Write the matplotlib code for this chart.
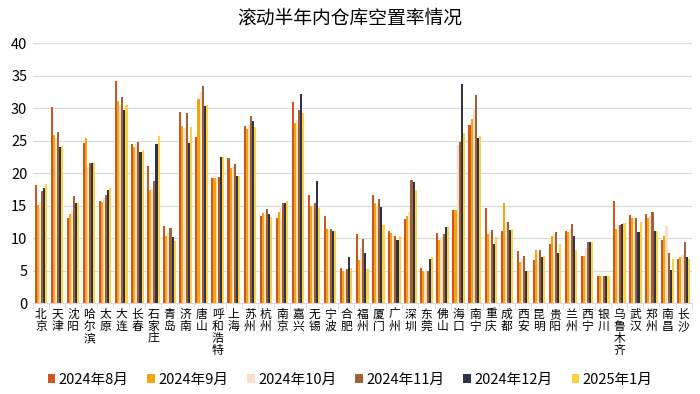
import numpy as np
import matplotlib
matplotlib.use("Agg")
import matplotlib.pyplot as plt

plt.rcParams["font.family"] = ["Noto Sans CJK SC", "DejaVu Sans"]

cities = ["北京", "天津", "沈阳", "哈尔滨", "太原", "大连", "长春", "石家庄", "青岛", "济南",
          "唐山", "呼和浩特", "上海", "苏州", "杭州", "南京", "嘉兴", "无锡", "宁波", "合肥",
          "福州", "厦门", "广州", "深圳", "东莞", "佛山", "海口", "南宁", "重庆", "成都",
          "西安", "昆明", "贵阳", "兰州", "西宁", "银川", "乌鲁木齐", "武汉", "郑州", "南昌", "长沙"]

aug = [18.2, 30.2, 13.2, 24.7, 15.7, 34.2, 24.5, 21.1, 11.9, 29.4,
       25.6, 19.3, 22.4, 27.3, 13.5, 13.1, 31.0, 16.6, 13.5, 5.5,
       10.7, 16.6, 11.1, 13.0, 5.5, 10.8, 14.4, 27.5, 14.6, 11.1,
       8.1, 6.6, 9.1, 11.1, 7.3, 4.2, 15.8, 13.6, 13.7, 9.8, 6.8]
sep = [15.1, 25.9, 13.8, 25.5, 15.6, 31.2, 24.1, 17.4, 10.4, 27.3,
       31.4, 19.3, 20.9, 26.9, 13.9, 14.1, 27.8, 15.0, 11.4, 5.0,
       6.6, 15.4, 10.8, 13.5, 5.0, 9.7, 14.4, 28.4, 10.7, 15.5,
       6.3, 8.2, 10.4, 11.0, 7.3, 4.2, 11.4, 13.2, 13.2, 10.4, 7.1]
oct_ = [15.6, 25.5, 14.5, 21.0, 16.2, 30.5, 24.6, 17.6, 11.0, 27.0,
        32.5, 19.4, 21.0, 27.5, 13.6, 14.6, 28.2, 15.2, 11.4, 5.0,
        8.5, 15.2, 10.6, 14.0, 5.0, 10.2, 24.4, 30.0, 11.0, 12.5,
        6.8, 7.8, 10.6, 11.5, 8.5, 4.2, 12.0, 13.2, 13.4, 11.9, 7.5]
nov = [17.3, 26.3, 16.5, 21.6, 16.7, 31.7, 24.8, 18.9, 11.6, 29.3,
       33.4, 19.5, 21.4, 28.8, 14.5, 15.4, 29.7, 15.4, 11.5, 5.3,
       9.9, 16.0, 10.3, 19.0, 5.0, 10.7, 24.8, 32.1, 11.3, 12.5,
       7.3, 8.2, 11.0, 12.2, 9.5, 4.2, 12.1, 13.1, 14.1, 7.8, 9.4]
dec = [17.8, 24.0, 15.5, 21.6, 17.5, 29.8, 23.3, 24.5, 10.2, 24.6,
       30.3, 22.5, 19.6, 28.1, 13.7, 15.4, 32.2, 18.8, 11.2, 7.2,
       7.8, 14.8, 9.8, 18.6, 6.8, 11.8, 33.7, 25.4, 9.1, 11.3,
       5.0, 7.1, 7.8, 10.4, 9.5, 4.2, 12.2, 11.0, 11.1, 5.1, 7.1]
jan = [18.4, 24.2, 15.5, 21.6, 17.7, 30.5, 23.6, 25.7, 9.6, 27.2,
       30.5, 22.5, 19.6, 27.1, 13.3, 15.7, 29.3, 14.6, 11.1, 5.5,
       5.3, 12.1, 10.4, 17.4, 7.2, 11.7, 26.2, 25.7, 10.2, 11.4,
       5.0, 7.3, 9.2, 8.2, 9.5, 4.2, 12.4, 12.5, 11.2, 6.8, 6.9]

series = [aug, sep, oct_, nov, dec, jan]
labels = ["2024年8月", "2024年9月", "2024年10月", "2024年11月", "2024年12月", "2025年1月"]
colors = ["#D4541E", "#F2A50C", "#F9DFC4", "#9E6139", "#2F3349", "#FDD23E"]

fig, ax = plt.subplots(figsize=(7, 3.94), dpi=100)
fig.subplots_adjust(left=0.047, right=0.988, top=0.89, bottom=0.23)

x = np.arange(len(cities))
w = 0.13
for i, (vals, lab, col) in enumerate(zip(series, labels, colors)):
    ax.bar(x + (i - 2.5) * w, vals, width=w, color=col, label=lab,
           linewidth=0, antialiased=False, zorder=2)

ax.set_xlim(-0.5, len(cities) - 0.5)
ax.set_ylim(0, 40)
ax.set_yticks(range(0, 41, 5))
ax.tick_params(axis="y", length=0, labelsize=10.5, pad=4)
ax.yaxis.grid(True, color="#D9D9D9", linewidth=0.8, zorder=0)

ax.set_xticks(x)
ax.set_xticklabels(["\n".join(c) for c in cities], fontsize=8.5, linespacing=0.92, va="top")
ax.tick_params(axis="x", length=0, pad=3)
ax.set_xticks(np.arange(-0.5, len(cities), 1), minor=True)
ax.tick_params(axis="x", which="minor", length=4, color="#D9D9D9")

for s in ["top", "right", "left"]:
    ax.spines[s].set_visible(False)
ax.spines["bottom"].set_color("#D9D9D9")

fig.suptitle("滚动半年内仓库空置率情况", fontsize=13.5, x=0.5, y=0.98)

fig.legend(loc="lower center", ncol=6, frameon=False, fontsize=10.5,
           handlelength=0.5, handleheight=0.5, columnspacing=1.3, handletextpad=0.25,
           bbox_to_anchor=(0.5, -0.015))

fig.savefig("out.png", dpi=100)
